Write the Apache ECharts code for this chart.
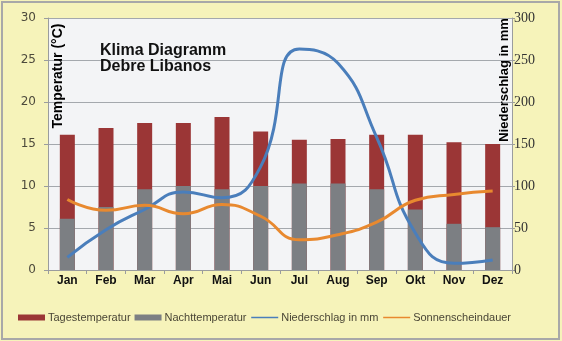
<!DOCTYPE html>
<html>
<head>
<meta charset="utf-8">
<script src="https://cdn.jsdelivr.net/npm/echarts@6/dist/echarts.min.js"></script>
<style>
html,body{margin:0;padding:0;background:#fff;}
#c{width:562px;height:341px;}
</style>
</head>
<body>
<div id="c"></div>
<script>
const months = ['Jan','Feb','Mar','Apr','Mai','Jun','Jul','Aug','Sep','Okt','Nov','Dez'];
const tagesTemp = [16.1, 16.9, 17.5, 17.5, 18.2, 16.5, 15.5, 15.6, 16.1, 16.1, 15.2, 15.0];
const nachtTemp = [6.1, 7.5, 9.6, 10.0, 9.6, 10.0, 10.3, 10.3, 9.6, 7.2, 5.5, 5.1];
const niederschlag = [15, 48, 72, 93, 86, 123, 263, 246, 158, 44, 8, 12];
const sonne = [8.4, 7.1, 7.7, 6.7, 7.8, 6.4, 3.6, 4.2, 5.7, 8.3, 9.0, 9.4];
const tempTicks = [0, 30, 5];
const rainTicks = [0, 300, 50];

const chart = echarts.init(document.getElementById('c'));
const option = {
  backgroundColor: '#F6F3BA',
  animation: false,
  grid: {left: 48, right: 50, top: 18, bottom: 71, show: true, backgroundColor: '#F3F4F6', borderWidth: 0},
  legend: {
    left: 18, top: 312, padding: 0, itemWidth: 27, itemHeight: 6, itemGap: 4,
    textStyle: {fontFamily: 'Liberation Sans', fontSize: 11, color: '#4a4636', padding: [0,0,0,-2]},
    data: [
      {name: 'Tagestemperatur', icon: 'rect'},
      {name: 'Nachttemperatur', icon: 'rect'},
      {name: 'Niederschlag in mm', itemStyle: {opacity: 0}, lineStyle: {width: 1.5}},
      {name: 'Sonnenscheindauer', itemStyle: {opacity: 0}, lineStyle: {width: 1.5}}
    ]
  },
  xAxis: {
    type: 'category', data: months, boundaryGap: true,
    axisLine: {lineStyle: {color: '#9a9c9e', width: 1}},
    axisTick: {show: true, length: 4, lineStyle: {color: '#9a9c9e'}},
    axisLabel: {margin: 5, fontFamily: 'Liberation Sans', fontWeight: 'bold', fontSize: 12, color: '#111'}
  },
  yAxis: [
    {
      type: 'value', min: tempTicks[0], max: tempTicks[1], interval: tempTicks[2],
      axisLine: {show: true, lineStyle: {color: '#9a9c9e'}},
      axisTick: {show: true, length: 4, lineStyle: {color: '#9a9c9e'}},
      splitLine: {lineStyle: {color: '#a4a8ad', width: 1}},
      axisLabel: {margin: 12, fontFamily: 'DejaVu Sans', fontSize: 12, color: '#4d4a3c'}
    },
    {
      type: 'value', min: rainTicks[0], max: rainTicks[1], interval: rainTicks[2], position: 'right',
      axisLine: {show: true, lineStyle: {color: '#9a9c9e'}},
      axisTick: {show: true, length: 3, lineStyle: {color: '#9a9c9e'}},
      splitLine: {show: false},
      axisLabel: {margin: 2, fontFamily: 'Liberation Serif', fontSize: 14, color: '#333'}
    }
  ],
  series: [
    {name: 'Tagestemperatur', type: 'bar', data: tagesTemp, barWidth: 15, barGap: '-100%', itemStyle: {color: '#9B3636'}},
    {name: 'Nachttemperatur', type: 'bar', data: nachtTemp, barWidth: 15, itemStyle: {color: '#7C7F83'}},
    {name: 'Niederschlag in mm', type: 'line', yAxisIndex: 1, data: niederschlag, smooth: true, showSymbol: false, symbol: 'none',
      lineStyle: {color: '#4A7EBB', width: 3}, itemStyle: {color: '#4A7EBB'}},
    {name: 'Sonnenscheindauer', type: 'line', yAxisIndex: 0, data: sonne, smooth: true, showSymbol: false, symbol: 'none',
      lineStyle: {color: '#E8892F', width: 3}, itemStyle: {color: '#E8892F'}}
  ],
  graphic: [
    {type: 'rect', shape: {x: 2, y: 2, width: 557, height: 337}, style: {fill: 'none', stroke: '#A8A8A8', lineWidth: 2}, z: 100},
    {type: 'text', left: 100, top: 43, style: {text: 'Klima Diagramm\nDebre Libanos', font: 'bold 16px "Liberation Sans"', fill: '#111', lineHeight: 16}, z: 50},
    {type: 'text', x: 58, y: 76, rotation: Math.PI / 2, style: {text: 'Temperatur (°C)', font: 'bold 14px "Liberation Sans"', fill: '#000', align: 'center', verticalAlign: 'middle'}, z: 50},
    {type: 'text', x: 504, y: 80, rotation: Math.PI / 2, style: {text: 'Niederschlag in mm', font: 'bold 13px "Liberation Sans"', fill: '#000', align: 'center', verticalAlign: 'middle'}, z: 50}
  ]
};
chart.setOption(option);
</script>
</body>
</html>
